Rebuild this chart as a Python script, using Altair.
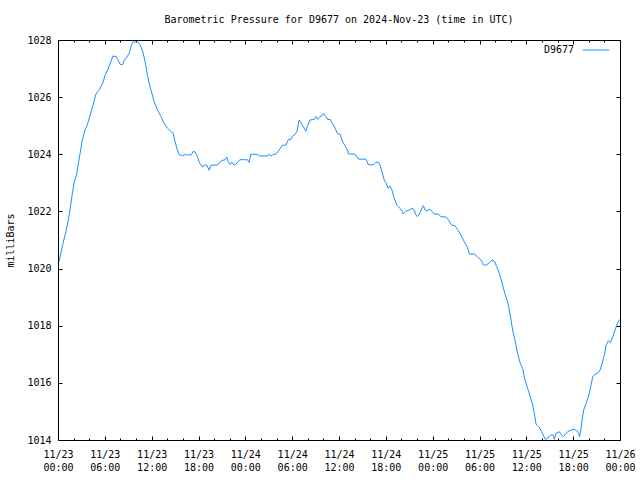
import altair as alt
import pandas as pd

hours = [0.15, 0.6, 1.03, 1.45, 1.75, 2.09, 2.39, 2.73, 3.08, 3.46, 3.72, 4.01, 4.44, 4.87, 5.3, 5.73,
         6.07, 6.37, 6.71, 7.01, 7.44, 7.65, 7.99, 8.29, 8.5, 8.72, 9.14, 9.49, 9.65, 10.21, 10.51, 10.85,
         11.06, 11.25, 11.45, 11.67, 11.96, 12.31, 12.73, 13.17, 13.59, 14.01, 14.45, 14.74, 15.0, 15.22,
         15.51, 15.94, 16.37, 16.62, 16.79, 17.01, 17.31, 17.56, 17.86, 18.08, 18.29, 18.5, 18.72, 19.06,
         19.36, 19.58, 20.42, 20.64, 20.98, 21.41, 21.63, 21.83, 22.05, 22.27, 22.56, 22.78, 23.12, 23.29,
         24.27, 24.49, 24.7, 25.55, 25.77, 26.83, 26.96, 27.27, 27.6, 27.91, 28.33, 28.76, 29.19, 29.53,
         29.83, 30.04, 30.38, 30.6, 30.9, 31.12, 31.41, 31.76, 31.96, 32.27, 32.82, 33.04, 33.24, 33.55,
         33.81, 34.01, 34.32, 34.53, 34.87, 35.17, 35.51, 35.81, 36.15, 36.45, 36.79, 37.09, 37.22, 37.95,
         38.17, 38.5, 39.45, 39.78, 40.42, 40.73, 41.03, 41.24, 41.5, 41.79, 42.01, 42.27, 42.53, 42.78,
         43.08, 43.42, 43.81, 44.06, 44.23, 44.58, 45.0, 45.35, 45.64, 45.86, 46.06, 46.37, 46.8, 47.1,
         47.35, 47.65, 48.21, 48.76, 49.06, 49.71, 50.04, 50.42, 50.86, 51.19, 51.63, 52.05, 52.47, 52.69,
         53.33, 53.76, 54.19, 54.53, 54.83, 55.26, 55.6, 55.9, 56.19, 56.54, 56.67, 56.96, 57.31, 57.6,
         57.82, 58.04, 58.24, 58.59, 58.88, 59.23, 59.53, 59.83, 60.17, 60.51, 60.81, 61.03, 61.24, 61.45,
         61.67, 61.96, 62.22, 62.44, 62.73, 62.95, 63.24, 63.45, 63.59, 63.81, 64.23, 64.45, 64.74, 65.0,
         65.29, 65.73, 66.15, 66.5, 66.71, 66.83, 67.01, 67.14, 67.35, 67.65, 67.95, 68.21, 68.5, 68.81,
         69.14, 69.45, 69.71, 70.0, 70.22, 70.51, 70.77, 71.06, 71.37, 71.63, 71.92]

pressure = [1020.25, 1020.84, 1021.30, 1021.89, 1022.47, 1023.05, 1023.29, 1023.87, 1024.45, 1024.86, 1025.0,
            1025.27, 1025.68, 1026.11, 1026.26, 1026.49, 1026.79, 1026.96, 1027.19, 1027.43, 1027.43, 1027.31,
            1027.14, 1027.14, 1027.31, 1027.35, 1027.55, 1027.9, 1027.93, 1027.93, 1027.84, 1027.6, 1027.37,
            1027.1, 1026.79, 1026.49, 1026.2, 1025.85, 1025.56, 1025.33, 1025.09, 1024.92, 1024.80, 1024.74,
            1024.45, 1024.22, 1023.99, 1023.95, 1024.0, 1023.96, 1024.0, 1023.96, 1024.1, 1024.08, 1023.93,
            1023.73, 1023.64, 1023.55, 1023.62, 1023.62, 1023.44, 1023.62, 1023.62, 1023.7, 1023.78, 1023.81,
            1023.9, 1023.73, 1023.64, 1023.73, 1023.62, 1023.64, 1023.76, 1023.81, 1023.81, 1023.72, 1024.0,
            1024.0, 1023.94, 1023.94, 1024.0, 1023.94, 1024.0, 1024.0, 1024.15, 1024.32, 1024.32, 1024.52,
            1024.52, 1024.64, 1024.7, 1024.79, 1025.2, 1025.11, 1024.97, 1024.81, 1024.99, 1025.2, 1025.22,
            1025.32, 1025.22, 1025.32, 1025.34, 1025.43, 1025.32, 1025.22, 1025.22, 1025.08, 1024.91, 1024.72,
            1024.70, 1024.44, 1024.29, 1024.15, 1024.01, 1024.01, 1023.97, 1023.83, 1023.83, 1023.63, 1023.63,
            1023.72, 1023.72, 1023.63, 1023.39, 1023.1, 1023.01, 1022.81, 1022.89, 1022.75, 1022.46, 1022.22,
            1022.11, 1022.01, 1021.91, 1022.01, 1022.05, 1022.11, 1022.05, 1021.87, 1021.82, 1021.95, 1022.2,
            1022.02, 1022.03, 1022.08, 1021.91, 1021.9, 1021.82, 1021.8, 1021.7, 1021.52, 1021.5, 1021.37,
            1021.17, 1020.94, 1020.74, 1020.51, 1020.51, 1020.41, 1020.3, 1020.12, 1020.12, 1020.2, 1020.3,
            1020.26, 1020.08, 1019.83, 1019.71, 1019.42, 1019.07, 1018.84, 1018.55, 1018.2, 1017.85, 1017.44,
            1017.03, 1016.68, 1016.51, 1016.1, 1015.81, 1015.51, 1015.22, 1014.93, 1014.56, 1014.5, 1014.44,
            1014.29, 1014.14, 1014.02, 1014.06, 1014.14, 1014.18, 1014.18, 1014.02, 1014.23, 1014.29, 1014.2,
            1014.12, 1014.2, 1014.29, 1014.35, 1014.37, 1014.33, 1014.22, 1014.12, 1014.41, 1014.7, 1015.05,
            1015.28, 1015.51, 1015.81, 1016.21, 1016.31, 1016.33, 1016.45, 1016.68, 1016.97, 1017.32, 1017.47,
            1017.41, 1017.61, 1017.85, 1018.06, 1018.22]

series_name = "D9677"
start_time = "2024-11-23T00:00:00Z"
end_time = "2024-11-26T00:00:00Z"
y_ticks = [1014, 1016, 1018, 1020, 1022, 1024, 1026, 1028]

FONT = "DejaVu Sans Mono"
W, H = 562, 400

t0 = pd.Timestamp(start_time)
times = [(t0 + pd.Timedelta(hours=h)).strftime("%Y-%m-%dT%H:%M:%SZ") for h in hours]
df = pd.DataFrame({"time": times, "pressure": pressure, "station": series_name})

x_tick_values = [int(t.value // 10**6) for t in pd.date_range(start_time, end_time, freq="2h")]
x_domain = [int(pd.Timestamp(start_time).value // 10**6), int(pd.Timestamp(end_time).value // 10**6)]

six_h = "datum.value % 21600000 == 0"

x_axis = alt.Axis(
    values=x_tick_values,
    labelExpr=f"{six_h} ? [utcFormat(datum.value, '%m/%d'), utcFormat(datum.value, '%H:%M')] : ''",
    labelFont=FONT, labelFontSize=10, labelColor="black", labelLineHeight=13,
    labelPadding=9, labelOverlap=False, labelFlush=False, labelAngle=0,
    ticks=False, domain=False, title=None,
    grid=True, gridColor="black", gridWidth=1, gridOpacity=1,
    gridDash={"condition": {"test": six_h, "value": [4, H - 8, 4, 10000]},
              "value": [2, H - 4, 2, 10000]},
)

y_axis = alt.Axis(
    values=y_ticks, format="d",
    labelFont=FONT, labelFontSize=10, labelColor="black", labelPadding=7,
    ticks=False, domain=False,
    grid=True, gridColor="black", gridWidth=1, gridOpacity=1,
    gridDash=[4, W - 8, 4, 10000],
    title="milliBars", titleFont=FONT, titleFontSize=10, titleFontWeight="normal",
    titleColor="black", titleAngle=270, titleX=-48, titleY=H / 2,
    titleAlign="center", titleBaseline="middle",
)

chart = alt.Chart(df).mark_line(strokeWidth=1, interpolate="linear").encode(
    x=alt.X("time:T", scale=alt.Scale(type="utc", domain=x_domain, nice=False), axis=x_axis),
    y=alt.Y("pressure:Q", scale=alt.Scale(domain=[1014, 1028], nice=False, zero=False), axis=y_axis),
    color=alt.Color("station:N", scale=alt.Scale(range=["#1e8fff"]),
                    legend=alt.Legend(title=None, orient="none", legendX=524, legendY=-4,
                                      symbolType="stroke", symbolSize=729, symbolStrokeWidth=1,
                                      labelFont=FONT, labelFontSize=10, labelColor="black",
                                      labelAlign="right", labelOffset={"expr": "-36"}, padding=0)),
).properties(
    width=W, height=H,
    title=alt.TitleParams("Barometric Pressure for D9677 on 2024-Nov-23 (time in UTC)",
                          font=FONT, fontSize=10, fontWeight="normal", color="black",
                          anchor="middle", frame="group", baseline="bottom", offset=0),
    autosize=alt.AutoSizeParams(type="none"),
    padding={"left": 58, "top": 40, "right": 20, "bottom": 40},
).configure_view(stroke="black", strokeWidth=1)

chart.save("out.html", embed_options={"renderer": "svg", "actions": False})
